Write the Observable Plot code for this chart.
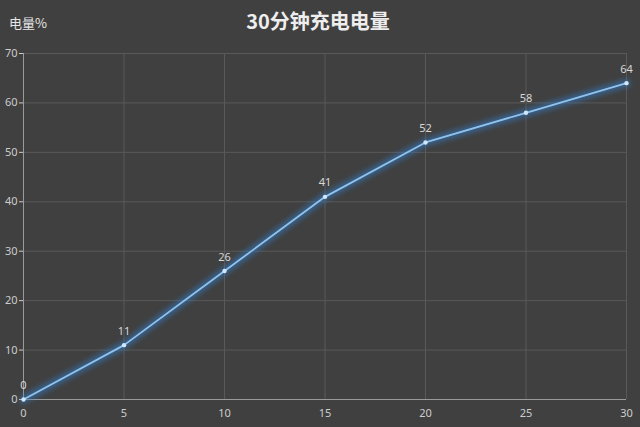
<!DOCTYPE html>
<html><head><meta charset="utf-8">
<script src="https://cdn.jsdelivr.net/npm/d3@7"></script>
<script src="https://cdn.jsdelivr.net/npm/@observablehq/plot@0.6"></script>
<style>
html,body{margin:0;padding:0;background:#404040;}
#wrap{position:relative;width:640px;height:427px;background:#404040;font-family:"Noto Sans CJK SC","Noto Sans",sans-serif;}
#title{position:absolute;left:0;width:636px;top:6px;text-align:center;color:#eeeeee;font-size:20px;font-weight:bold;}
#ylab{position:absolute;left:9px;top:13px;color:#e6e6e6;font-size:13px;}
</style></head>
<body><div id="wrap"><div id="title">30分钟充电电量</div><div id="ylab">电量%</div><div id="chart"></div></div>
<script>
const minutes = [0, 5, 10, 15, 20, 25, 30];
const charge = [0, 11, 26, 41, 52, 58, 64];
const yTicks = [0, 10, 20, 30, 40, 50, 60, 70];
const xTicks = [0, 5, 10, 15, 20, 25, 30];
const data = minutes.map((m, i) => ({m, c: charge[i]}));

const chart = Plot.plot({
  width: 640, height: 427,
  marginTop: 53, marginBottom: 28, marginLeft: 23, marginRight: 14,
  style: {background: "#404040", color: "#cccccc", fontSize: "11px", fontFamily: "Noto Sans, sans-serif", overflow: "visible"},
  x: {domain: [0, 30], ticks: xTicks, tickSize: 0, tickPadding: 10, label: null},
  y: {domain: [0, 70], ticks: yTicks, tickSize: 4, tickPadding: 2, label: null},
  marks: [
    Plot.ruleX(xTicks, {stroke: "#595959", strokeWidth: 1}),
    Plot.ruleY(yTicks, {stroke: "#595959", strokeWidth: 1}),
    Plot.ruleX([0], {stroke: "#9a9a9a"}),
    Plot.ruleY([0], {stroke: "#9a9a9a"}),
    Plot.line(data, {x: "m", y: "c", stroke: "#2f7fd0", strokeWidth: 8, strokeOpacity: 0.5, className: "glow"}),
    Plot.line(data, {x: "m", y: "c", stroke: "#8fc3ee", strokeWidth: 1.8}),
    Plot.dot(data, {x: "m", y: "c", r: 2.2, fill: "#cfe6fb", stroke: null}),
    Plot.text(data, {x: "m", y: "c", text: d => String(d.c), dy: -14, fill: "#d8d8d8", fontSize: 11})
  ]
});
document.getElementById("chart").appendChild(chart);
const svg = d3.select(chart);
const defs = svg.insert("defs", ":first-child");
defs.append("filter").attr("id", "blurf").attr("x", "-10%").attr("y", "-10%").attr("width", "120%").attr("height", "120%")
  .append("feGaussianBlur").attr("stdDeviation", 2.5);
svg.selectAll(".glow path").attr("filter", "url(#blurf)");
</script></body></html>
